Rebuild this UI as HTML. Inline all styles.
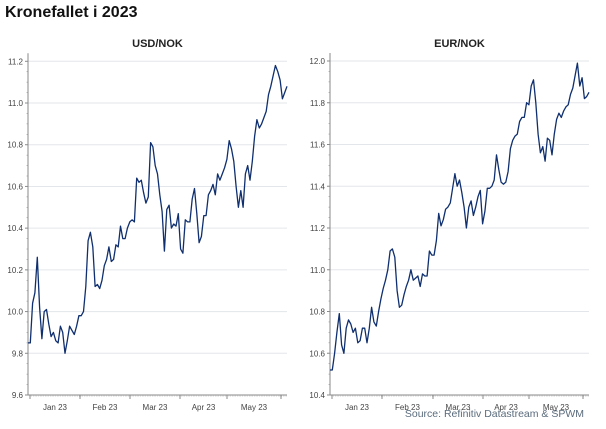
<!DOCTYPE html>
<html><head><meta charset="utf-8"><style>
body{margin:0;background:#fff;width:606px;height:424px;overflow:hidden;font-family:"Liberation Sans",sans-serif}
</style></head><body>
<svg id="svg" width="606" height="424" xmlns="http://www.w3.org/2000/svg">
<text x="5" y="17" font-size="16" font-weight="bold" fill="#111">Kronefallet i 2023</text>
<text x="584" y="417" font-size="10.5" fill="#5a6b7c" text-anchor="end">Source: Refinitiv Datastream &amp; SPWM</text>
</svg>
<script>
const usdValues=[9.85,9.85,10.04,10.09,10.26,10.02,9.87,10.0,10.01,9.94,9.88,9.9,9.86,9.85,9.93,9.9,9.8,9.86,9.93,9.91,9.89,9.93,9.98,9.98,10.0,10.12,10.34,10.38,10.31,10.12,10.13,10.11,10.15,10.22,10.25,10.31,10.24,10.25,10.32,10.31,10.41,10.35,10.35,10.4,10.43,10.44,10.43,10.64,10.62,10.63,10.57,10.52,10.55,10.81,10.79,10.7,10.66,10.56,10.48,10.29,10.49,10.51,10.4,10.42,10.41,10.47,10.3,10.28,10.44,10.43,10.43,10.54,10.59,10.47,10.33,10.36,10.46,10.46,10.56,10.58,10.61,10.56,10.66,10.63,10.66,10.69,10.73,10.82,10.78,10.72,10.6,10.5,10.58,10.5,10.66,10.7,10.63,10.72,10.84,10.92,10.88,10.9,10.93,10.96,11.04,11.08,11.13,11.18,11.15,11.11,11.02,11.05,11.08];
const eurValues=[10.52,10.52,10.6,10.7,10.79,10.64,10.6,10.72,10.76,10.74,10.7,10.72,10.65,10.66,10.72,10.72,10.65,10.72,10.82,10.75,10.73,10.8,10.86,10.91,10.95,11.0,11.09,11.1,11.06,10.9,10.82,10.83,10.88,10.92,10.95,11.0,10.95,10.96,10.97,10.92,10.98,10.97,10.97,11.09,11.07,11.07,11.14,11.27,11.21,11.24,11.29,11.3,11.32,11.39,11.46,11.4,11.43,11.37,11.3,11.2,11.3,11.33,11.26,11.3,11.35,11.38,11.22,11.28,11.39,11.39,11.4,11.43,11.55,11.48,11.42,11.41,11.42,11.47,11.58,11.62,11.64,11.65,11.71,11.73,11.73,11.8,11.79,11.88,11.91,11.8,11.65,11.56,11.59,11.52,11.63,11.62,11.55,11.65,11.72,11.75,11.73,11.76,11.78,11.79,11.84,11.87,11.93,11.99,11.88,11.92,11.82,11.83,11.85];
const usdTicks=[9.6,9.8,10.0,10.2,10.4,10.6,10.8,11.0,11.2];
const eurTicks=[10.4,10.6,10.8,11.0,11.2,11.4,11.6,11.8,12.0];
const monthLabels=["Jan 23","Feb 23","Mar 23","Apr 23","May 23"];
const NS="http://www.w3.org/2000/svg";
const svg=document.getElementById('svg');
function mk(tag,attrs,parent){const e=document.createElementNS(NS,tag);for(const k in attrs)e.setAttribute(k,attrs[k]);(parent||svg).appendChild(e);return e;}
function panel(cfg){
  const g=mk('g',{});
  
  
  const {x0,x1,yTop,yBot,ticks,values,monthX,lineX0,lineX1}=cfg;
  const vmin=ticks[0],vmax=ticks[ticks.length-1];
  const ys=v=>yBot-(v-vmin)/(vmax-vmin)*(yBot-yTop);
  const t=mk('text',{x:(x0+x1)/2,y:47,'font-size':11,'font-weight':'bold','text-anchor':'middle',fill:'#222'},g);
  t.textContent=cfg.title;
  
  
  ticks.forEach(v=>{
    const y=ys(v);
    if(v!==vmin){const gl=mk('line',{x1:x0,x2:x1,y1:y,y2:y,stroke:'#e3e6ea','stroke-width':1},g);
    
    }
    mk('line',{x1:x0-3,x2:x0,y1:y,y2:y,stroke:'#888'},g);
    const l=mk('text',{x:x0-5,y:y+3,'font-size':8,'text-anchor':'end',fill:'#444'},g);
    l.textContent=v.toFixed(1);
    
    
  });
  for(let v=vmin;v<=vmax+1e-9;v+=0.05){mk('line',{x1:x0-1.5,x2:x0,y1:ys(v),y2:ys(v),stroke:'#999','stroke-width':0.6},g);}
  const ya=mk('line',{x1:x0,x2:x0,y1:yTop-8,y2:yBot,stroke:'#888','stroke-width':1},g);
  
  
  const xa=mk('line',{x1:x0,x2:x1,y1:yBot,y2:yBot,stroke:'#888','stroke-width':1},g);
  
  
  for(let x=monthX[0];x<=x1;x+=1.7){mk('line',{x1:x,x2:x,y1:yBot,y2:yBot+1.5,stroke:'#aaa','stroke-width':0.5},g);}
  monthX.forEach(x=>mk('line',{x1:x,x2:x,y1:yBot,y2:yBot+4,stroke:'#888'},g));
  monthLabels.forEach((m,i)=>{
    const l=mk('text',{x:(monthX[i]+monthX[i+1])/2,y:yBot+15,'font-size':8,'text-anchor':'middle',fill:'#444'},g);
    l.textContent=m;
    
    
  });
  const n=values.length;
  const xs=i=>lineX0+i*(lineX1-lineX0)/(n-1);
  const d=values.map((v,i)=>(i?'L':'M')+xs(i).toFixed(1)+','+ys(v).toFixed(1)).join('');
  const p=mk('path',{d:d,fill:'none',stroke:'#0f2f6e','stroke-width':1.3,'stroke-linejoin':'round'},g);
  
  
}
panel({name:'usd-nok',title:'USD/NOK',x0:28,x1:287,yTop:61.3,yBot:395,ticks:usdTicks,values:usdValues,monthX:[30,80,130,180,227,281],lineX0:28,lineX1:287});
panel({name:'eur-nok',title:'EUR/NOK',x0:330,x1:589,yTop:61,yBot:395,ticks:eurTicks,values:eurValues,monthX:[332,382,433,483,529,583],lineX0:330,lineX1:589});
</script>
</body></html>
